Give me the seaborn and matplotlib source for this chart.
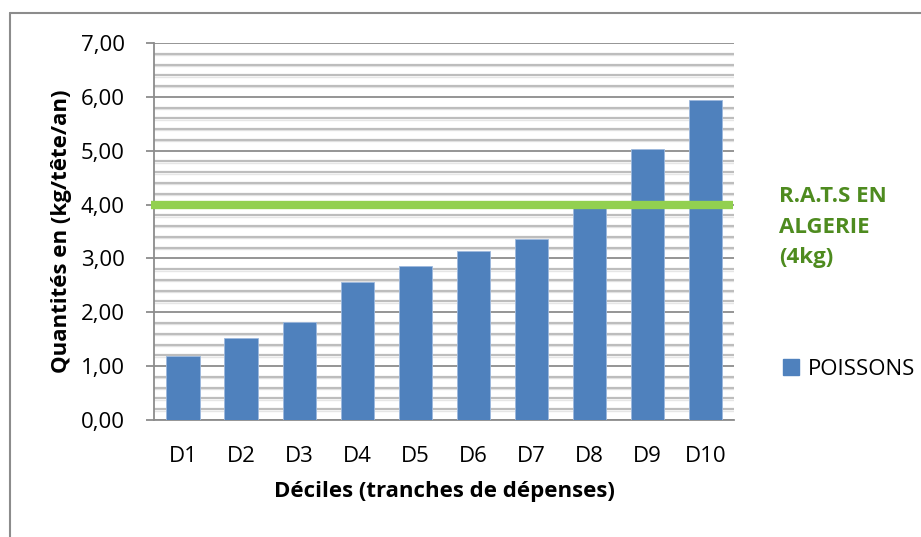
import pandas as pd
import seaborn as sns
import matplotlib.pyplot as plt
from matplotlib.lines import Line2D
from matplotlib.patches import Patch

# Chart values
deciles = ['D1', 'D2', 'D3', 'D4', 'D5', 'D6', 'D7', 'D8', 'D9', 'D10']
poissons = [1.18, 1.52, 1.81, 2.57, 2.85, 3.14, 3.36, 3.93, 5.03, 5.94]
rats_value = 4.0
y_ticks = [0, 1, 2, 3, 4, 5, 6, 7]

df = pd.DataFrame({'Décile': deciles, 'POISSONS': poissons})

sns.set_theme(style='white')
plt.rcParams['font.family'] = ['Open Sans', 'DejaVu Sans']
plt.rcParams['text.color'] = 'black'
plt.rcParams['axes.labelcolor'] = 'black'
plt.rcParams['xtick.color'] = 'black'
plt.rcParams['ytick.color'] = 'black'

fig = plt.figure(figsize=(9.21, 5.37), dpi=100)
ax = fig.add_axes([0.1672, 0.2179, 0.6300, 0.7021])

sns.barplot(data=df, x='Décile', y='POISSONS', color='#4F81BD', saturation=1,
            width=0.57, edgecolor='#9DB9DE', linewidth=0.6, ax=ax, zorder=3)

# gridlines: major every 1, minor every 0.2
for v in [i / 5 for i in range(36)]:
    if abs(v - round(v)) < 1e-9:
        ax.axhline(v, color='#8C8C8C', lw=1.3, zorder=1)
    else:
        ax.axhline(v, color='#BDBDBD', lw=1.6, zorder=1)
        ax.axhline(v - 0.025, color='#E6E6E6', lw=1.0, zorder=0.9)

# reference line R.A.T.S
ax.axhline(rats_value, xmin=-0.005, xmax=0.998, color='#92D050', lw=6,
           zorder=4, clip_on=False, solid_capstyle='butt')

ax.set_ylim(0, 7)
ax.set_xlim(-0.5, 9.5)
ax.set_yticks(y_ticks)
ax.set_yticklabels([f'{v:.2f}'.replace('.', ',') for v in y_ticks], fontsize=16)
ax.tick_params(axis='y', left=True, length=6, width=1.3, color='#8C8C8C', labelcolor='black', pad=15)
ax.tick_params(axis='x', bottom=False, labelsize=16, labelcolor='black', pad=13)

for s in ['top', 'right']:
    ax.spines[s].set_visible(False)
for s in ['left', 'bottom']:
    ax.spines[s].set_color('#8C8C8C')
    ax.spines[s].set_linewidth(1.3)

ax.set_xlabel('Déciles (tranches de dépenses)', fontsize=16, fontweight='bold', labelpad=10)
ax.set_ylabel('Quantités en (kg/tête/an)', fontsize=16, fontweight='bold', labelpad=6)

# annotation and legend
fig.text(0.846, 0.577, 'R.A.T.S EN\nALGERIE\n(4kg)', color='#4E8B1F', fontsize=16,
         fontweight='bold', ha='left', va='center', linespacing=1.6)
ax.legend(handles=[Patch(facecolor='#4F81BD', edgecolor='#4F81BD', label='POISSONS')],
          loc='center left', bbox_to_anchor=(1.05, 0.135), frameon=False,
          fontsize=16, handlelength=0.7, handleheight=0.7, handletextpad=0.4)

# outer chart frame
fig.add_artist(Line2D([0.011, 0.011], [0, 0.976], color='#8C8C8C', lw=1.5))
fig.add_artist(Line2D([0.011, 1.0], [0.976, 0.976], color='#8C8C8C', lw=1.5))

fig.savefig('out.png', dpi=100)
